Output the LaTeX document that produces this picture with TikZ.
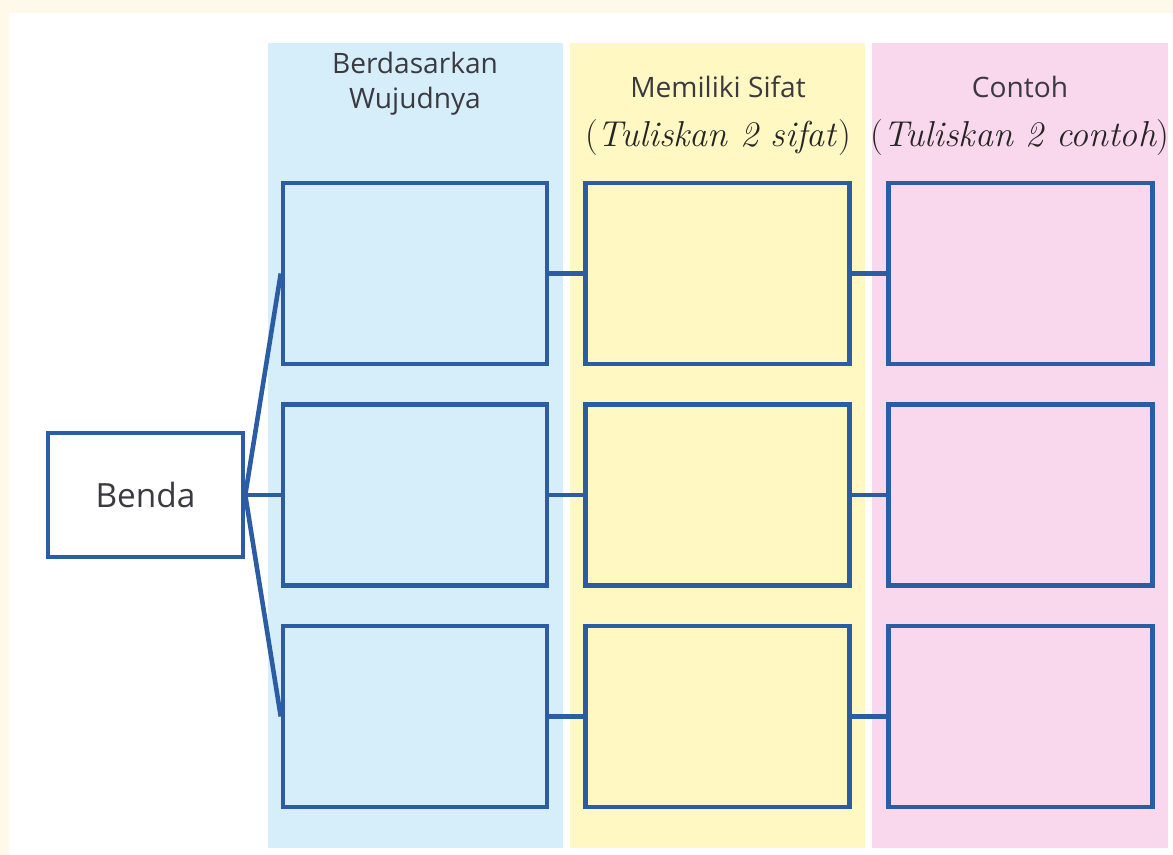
\documentclass[tikz,border=0pt]{standalone}
\usepackage{fontspec}
\setsansfont{Open Sans}
\usepackage{tikz}
\usetikzlibrary{positioning}
\definecolor{bandblue}{HTML}{D6EEFA}
\definecolor{bandyellow}{HTML}{FFF8C2}
\definecolor{bandpink}{HTML}{F9D7EC}
\definecolor{edge}{HTML}{2A5DA3}
\definecolor{cream}{HTML}{FFF9EA}
\definecolor{ink}{HTML}{3A3A40}

\begin{document}
\begin{tikzpicture}[x=0.02cm,y=-0.02cm,
  box/.style = {draw=edge, line width=2.6pt, minimum width=5.28cm, minimum height=3.62cm, inner sep=0pt},
  head/.style = {text=ink, font=\sffamily\fontsize{16}{20}\selectfont, align=center},
  hint/.style = {text=black!85, font=\itshape\fontsize{20.5}{24}\selectfont},
  link/.style = {draw=edge, line width=2.6pt},]
\useasboundingbox (0,0) rectangle (1173,855);
\fill[cream] (0,0) rectangle (1173,855);
\fill[white] (9,13) rectangle (1173,855);
% kolom
\fill[bandblue] (268,43) rectangle (563,848);
\fill[bandyellow] (570,43) rectangle (865,848);
\fill[bandpink] (872,43) rectangle (1168,848);
% judul
\node (hWujud) at (415,84)[head] {Berdasarkan\\Wujudnya};
\node (hSifat) at (718,87)[head] {Memiliki Sifat};
\node (hSifatT) at (718,138)[hint] {\upshape(\itshape Tuliskan 2 sifat\/\upshape)};
\node (hContoh) at (1020,87)[head] {Contoh};
\node (hContohT) at (1020,138)[hint] {\upshape(\itshape Tuliskan 2 contoh\/\upshape)};
% kotak
\node (benda) at (145.5,495)[draw=edge, line width=2.6pt, fill=white, minimum width=3.9cm, minimum height=2.48cm, text=ink, font=\sffamily\fontsize{19}{22}\selectfont] {Benda};
\node (w1) at (415,273.5)[box,fill=bandblue] {};
\node (w2) at (415,495)[box,fill=bandblue] {};
\node (w3) at (415,716.5)[box,fill=bandblue] {};
\node (s1) at (717.5,273.5)[box,fill=bandyellow] {};
\node (s2) at (717.5,495)[box,fill=bandyellow] {};
\node (s3) at (717.5,716.5)[box,fill=bandyellow] {};
\node (c1) at (1020.5,273.5)[box,fill=bandpink] {};
\node (c2) at (1020.5,495)[box,fill=bandpink] {};
\node (c3) at (1020.5,716.5)[box,fill=bandpink] {};
% garis
\draw[link] (benda.east)--(w1.west);
\draw[link] (benda.east)--(w2.west);
\draw[link] (benda.east)--(w3.west);
\draw[link] (w1.east)--(s1.west);
\draw[link] (w2.east)--(s2.west);
\draw[link] (w3.east)--(s3.west);
\draw[link] (s1.east)--(c1.west);
\draw[link] (s2.east)--(c2.west);
\draw[link] (s3.east)--(c3.west);
\end{tikzpicture}
\end{document}
